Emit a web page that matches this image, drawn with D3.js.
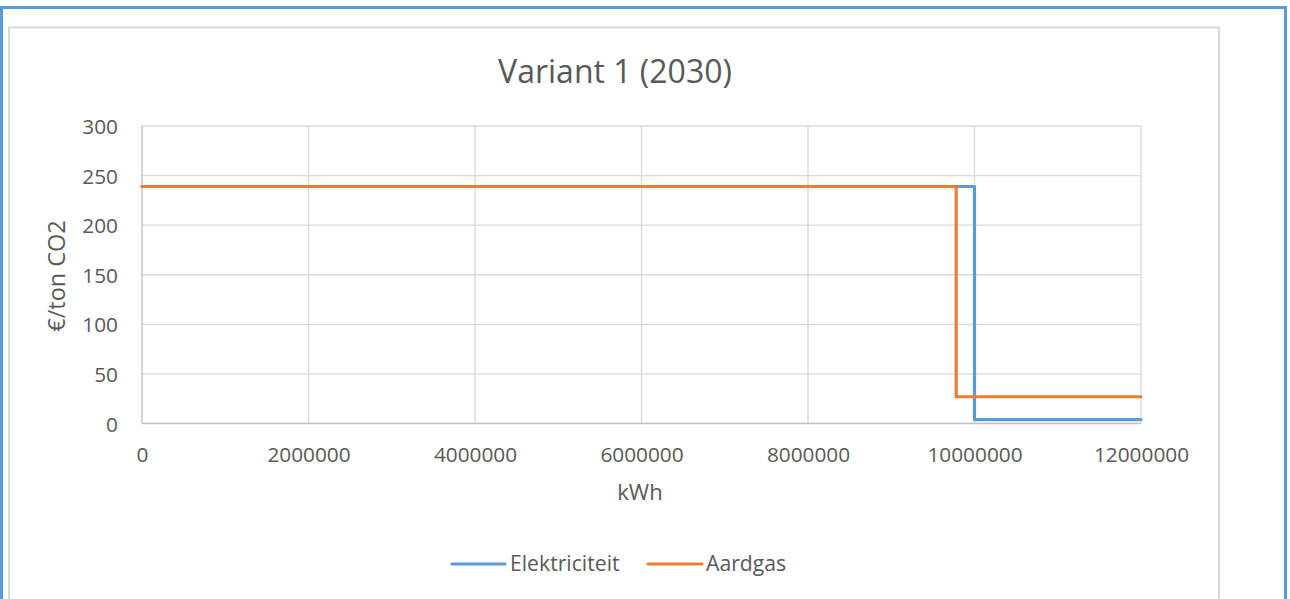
<!DOCTYPE html>
<html>
<head>
<meta charset="utf-8">
<script src="https://cdn.jsdelivr.net/npm/d3@7"></script>
<style>
  body { margin: 0; background: #fff; }
  svg text { font-family: "Open Sans", "Liberation Sans", sans-serif; fill: #595959; }
</style>
</head>
<body>
<div id="chart"></div>
<script>
// chart data
var title = "Variant 1 (2030)";
var xLabel = "kWh";
var yLabel = "€/ton CO2";
var seriesNames = ["Elektriciteit", "Aardgas"];
var seriesColors = ["#5B9BD5", "#ED7D31"];

var elektriciteitX = [0, 10000000, 10000000, 12000000];
var elektriciteitY = [239, 239, 4, 4];
var aardgasX = [0, 9780000, 9780000, 12000000];
var aardgasY = [239, 239, 27, 27];

var xTicks = [0, 2000000, 4000000, 6000000, 8000000, 10000000, 12000000];
var yTicks = [0, 50, 100, 150, 200, 250, 300];

var width = 1290, height = 599;
var plot = { left: 142, right: 1141, top: 126, bottom: 423.5 };

var svg = d3.select("#chart").append("svg")
  .attr("width", width)
  .attr("height", height);

// outer blue frame + inner chart area border
svg.append("rect")
  .attr("x", 1.5).attr("y", 7.5)
  .attr("width", 1284).attr("height", 620)
  .attr("fill", "none")
  .attr("stroke", "#5B9BD5")
  .attr("stroke-width", 3);

svg.append("rect")
  .attr("x", 9).attr("y", 27.5)
  .attr("width", 1210).attr("height", 600)
  .attr("fill", "#fff")
  .attr("stroke", "#D9D9D9")
  .attr("stroke-width", 2);

var x = d3.scaleLinear().domain([0, 12000000]).range([plot.left, plot.right]);
var y = d3.scaleLinear().domain([0, 300]).range([plot.bottom, plot.top]);

// gridlines
svg.append("g")
  .selectAll("line.h")
  .data(yTicks.slice(1))
  .enter().append("line")
  .attr("x1", plot.left).attr("x2", plot.right)
  .attr("y1", d => y(d)).attr("y2", d => y(d))
  .attr("stroke", "#D9D9D9").attr("stroke-width", 1.3);

svg.append("g")
  .selectAll("line.v")
  .data(xTicks)
  .enter().append("line")
  .attr("x1", d => x(d)).attr("x2", d => x(d))
  .attr("y1", plot.top).attr("y2", plot.bottom)
  .attr("stroke", d => d === 0 ? "#BFBFBF" : "#D9D9D9").attr("stroke-width", 1.3);

// bottom axis line
svg.append("line")
  .attr("x1", plot.left).attr("x2", plot.right)
  .attr("y1", plot.bottom).attr("y2", plot.bottom)
  .attr("stroke", "#BFBFBF").attr("stroke-width", 1.3);

// tick labels
var xAxis = d3.axisBottom(x).tickValues(xTicks).tickSize(0).tickPadding(0).tickFormat(d3.format("d"));
var xAxisG = svg.append("g").attr("transform", `translate(0, ${plot.bottom})`).call(xAxis);
xAxisG.select(".domain").remove();
xAxisG.selectAll("text")
  .attr("y", 38).attr("dy", null)
  .style("font-size", "20.8px");

var yAxis = d3.axisLeft(y).tickValues(yTicks).tickSize(0).tickPadding(0);
var yAxisG = svg.append("g").attr("transform", `translate(118, 0)`).call(yAxis);
yAxisG.select(".domain").remove();
yAxisG.selectAll("text")
  .attr("dy", "0.36em")
  .style("font-size", "20.8px");

// series
var line = d3.line().x(d => x(d[0])).y(d => y(d[1]));
var series = [
  d3.zip(elektriciteitX, elektriciteitY),
  d3.zip(aardgasX, aardgasY)
];
series.forEach((pts, i) => {
  svg.append("path")
    .datum(pts)
    .attr("d", line)
    .attr("fill", "none")
    .attr("stroke", seriesColors[i])
    .attr("stroke-width", 3.2)
    .attr("stroke-linejoin", "round")
    .attr("stroke-linecap", "round");
});

// title and axis titles
svg.append("text")
  .attr("x", 615).attr("y", 83)
  .attr("text-anchor", "middle")
  .style("font-size", "32px")
  .text(title);

svg.append("text")
  .attr("x", 640).attr("y", 500)
  .attr("text-anchor", "middle")
  .style("font-size", "22px")
  .text(xLabel);

svg.append("text")
  .attr("transform", "translate(65, 276) rotate(-90)")
  .attr("text-anchor", "middle")
  .style("font-size", "23.5px")
  .text(yLabel);

// legend
var legendItems = [
  { x1: 452, x2: 505, tx: 510 },
  { x1: 648, x2: 702, tx: 706 }
];
legendItems.forEach((it, i) => {
  svg.append("line")
    .attr("x1", it.x1).attr("x2", it.x2)
    .attr("y1", 564).attr("y2", 564)
    .attr("stroke", seriesColors[i])
    .attr("stroke-width", 3.2)
    .attr("stroke-linecap", "round");
  svg.append("text")
    .attr("x", it.tx).attr("y", 571)
    .style("font-size", "21.2px")
    .text(seriesNames[i]);
});
</script>
</body>
</html>
